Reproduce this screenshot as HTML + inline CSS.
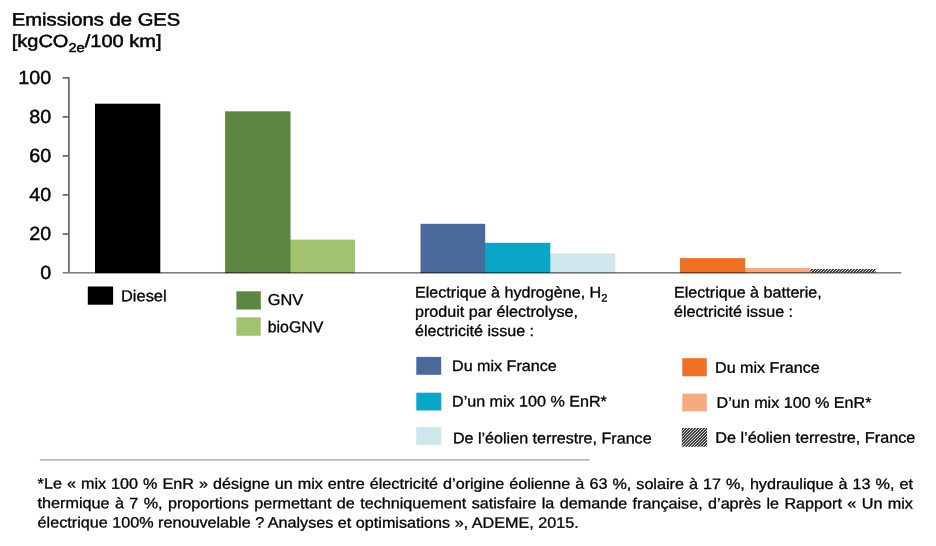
<!DOCTYPE html>
<html lang="fr">
<head>
<meta charset="utf-8">
<title>Emissions de GES</title>
<style>
html,body{margin:0;padding:0;background:#fff;}
body{width:936px;height:546px;position:relative;overflow:hidden;font-family:"Liberation Sans",Arial,sans-serif;color:#000;-webkit-text-stroke:0.3px #000;}
.t{position:absolute;white-space:nowrap;line-height:1;transform-origin:0 0;}
.ax{text-align:right;width:40px;}
.fn{position:absolute;left:37px;width:812px;transform:translate(0.6px,var(--dy)) scaleX(1.078) rotate(0.03deg);transform-origin:0 0;font-size:15px;line-height:1;text-align:justify;text-align-last:justify;white-space:nowrap;}
sub{vertical-align:baseline;position:relative;line-height:0;}
svg{position:absolute;left:0;top:0;}
</style>
</head>
<body>
<svg width="936" height="546" viewBox="0 0 936 546">
<g fill="#5c5c5c">
<rect x="68.1" y="77.05" width="1.6" height="195"/>
<rect x="62.6" y="77.05" width="6" height="1.6"/>
<rect x="62.6" y="116.10" width="6" height="1.6"/>
<rect x="62.6" y="155.10" width="6" height="1.6"/>
<rect x="62.6" y="194.10" width="6" height="1.6"/>
<rect x="62.6" y="233.20" width="6" height="1.6"/>
</g>
<rect x="744.30" y="268.0" width="66.00" height="5.10" fill="#f5aa80"/>
<rect x="680.00" y="258.1" width="65.30" height="15.00" fill="#f07025"/>
<rect x="549.30" y="253.5" width="66.00" height="19.60" fill="#cde7ed"/>
<rect x="484.20" y="242.8" width="66.10" height="30.30" fill="#0ba5c7"/>
<rect x="420.50" y="223.8" width="64.70" height="49.30" fill="#4b6a9c"/>
<rect x="289.50" y="239.6" width="65.50" height="33.50" fill="#a3c26f"/>
<rect x="225.10" y="111.3" width="65.40" height="161.80" fill="#5e8643"/>
<rect x="95.00" y="103.7" width="65.30" height="169.40" fill="#000"/>
<clipPath id="c1"><rect x="810.4" y="268.9" width="65.1" height="3.8"/></clipPath>
<path clip-path="url(#c1)" d="M801.80 273.70L807.60 267.90M804.80 273.70L810.60 267.90M807.80 273.70L813.60 267.90M810.80 273.70L816.60 267.90M813.80 273.70L819.60 267.90M816.80 273.70L822.60 267.90M819.80 273.70L825.60 267.90M822.80 273.70L828.60 267.90M825.80 273.70L831.60 267.90M828.80 273.70L834.60 267.90M831.80 273.70L837.60 267.90M834.80 273.70L840.60 267.90M837.80 273.70L843.60 267.90M840.80 273.70L846.60 267.90M843.80 273.70L849.60 267.90M846.80 273.70L852.60 267.90M849.80 273.70L855.60 267.90M852.80 273.70L858.60 267.90M855.80 273.70L861.60 267.90M858.80 273.70L864.60 267.90M861.80 273.70L867.60 267.90M864.80 273.70L870.60 267.90M867.80 273.70L873.60 267.90M870.80 273.70L876.60 267.90M873.80 273.70L879.60 267.90M876.80 273.70L882.60 267.90" stroke="#222" stroke-width="1.3" fill="none"/>
<rect x="62.6" y="272.0" width="838.6" height="1.6" fill="#000" fill-opacity="0.5"/>
<rect x="87.8" y="286.5" width="25.3" height="18.2" fill="#000"/>
<rect x="236.4" y="291.3" width="24.4" height="18.2" fill="#5e8643"/>
<rect x="236.4" y="317.3" width="24.3" height="18.5" fill="#a3c26f"/>
<rect x="416.3" y="356.9" width="24.9" height="17.9" fill="#4b6a9c"/>
<rect x="416.3" y="392.7" width="25" height="17.8" fill="#0ba5c7"/>
<rect x="416.3" y="427.1" width="25" height="17.8" fill="#cde7ed"/>
<rect x="682.3" y="358.2" width="24.5" height="18.1" fill="#f07025"/>
<rect x="682.3" y="393.6" width="24.5" height="17.8" fill="#f5aa80"/>
<clipPath id="c2"><rect x="681.8" y="428.0" width="25.3" height="18.8"/></clipPath>
<path clip-path="url(#c2)" d="M657.70 447.80L678.50 427.00M660.70 447.80L681.50 427.00M663.70 447.80L684.50 427.00M666.70 447.80L687.50 427.00M669.70 447.80L690.50 427.00M672.70 447.80L693.50 427.00M675.70 447.80L696.50 427.00M678.70 447.80L699.50 427.00M681.70 447.80L702.50 427.00M684.70 447.80L705.50 427.00M687.70 447.80L708.50 427.00M690.70 447.80L711.50 427.00M693.70 447.80L714.50 427.00M696.70 447.80L717.50 427.00M699.70 447.80L720.50 427.00M702.70 447.80L723.50 427.00M705.70 447.80L726.50 427.00M708.70 447.80L729.50 427.00" stroke="#222" stroke-width="1.3" fill="none"/>
<rect x="39.9" y="459.1" width="549.6" height="1.6" fill="#b4b4b4"/>
</svg>
<div class="t" style="left:11px;top:11px;font-size:17.7px;transform:translate(0.80px,0.40px) scaleX(1.143) rotate(0.03deg);-webkit-text-stroke-width:0.5px;">Emissions de GES</div>
<div class="t" style="left:11px;top:33px;font-size:17.7px;transform:translate(0.70px,0.00px) scaleX(1.132) rotate(0.03deg);-webkit-text-stroke-width:0.5px;">[kgCO<sub style="font-size:73%;top:4.5px">2e</sub>/100 km]</div>
<div class="t ax" style="left:11px;top:67px;font-size:19px;transform:translate(0.10px,0.95px) scaleX(1.035) rotate(0.03deg);transform-origin:100% 0;-webkit-text-stroke-width:0.45px;">100</div>
<div class="t ax" style="left:11px;top:107px;font-size:19px;transform:translate(0.10px,0.00px) scaleX(1.035) rotate(0.03deg);transform-origin:100% 0;-webkit-text-stroke-width:0.45px;">80</div>
<div class="t ax" style="left:11px;top:146px;font-size:19px;transform:translate(0.10px,0.00px) scaleX(1.035) rotate(0.03deg);transform-origin:100% 0;-webkit-text-stroke-width:0.45px;">60</div>
<div class="t ax" style="left:11px;top:185px;font-size:19px;transform:translate(0.10px,0.00px) scaleX(1.035) rotate(0.03deg);transform-origin:100% 0;-webkit-text-stroke-width:0.45px;">40</div>
<div class="t ax" style="left:11px;top:224px;font-size:19px;transform:translate(0.10px,0.10px) scaleX(1.035) rotate(0.03deg);transform-origin:100% 0;-webkit-text-stroke-width:0.45px;">20</div>
<div class="t ax" style="left:11px;top:263px;font-size:19px;transform:translate(0.10px,0.10px) scaleX(1.035) rotate(0.03deg);transform-origin:100% 0;-webkit-text-stroke-width:0.45px;">0</div>
<div class="t" style="left:121px;top:288px;font-size:15.8px;transform:translate(0.00px,0.30px) scaleX(1.04) rotate(0.03deg);">Diesel</div>
<div class="t" style="left:267px;top:292px;font-size:15.8px;transform:translate(0.70px,0.00px) scaleX(1.035) rotate(0.03deg);">GNV</div>
<div class="t" style="left:267px;top:319px;font-size:15.8px;transform:translate(0.70px,0.20px) scaleX(1.005) rotate(0.03deg);">bioGNV</div>
<div class="t" style="left:415px;top:284px;font-size:15.3px;transform:translate(0.00px,0.50px) scaleX(1.053) rotate(0.03deg);">Electrique à hydrogène, H<sub style="font-size:70%;top:3.8px">2</sub></div>
<div class="t" style="left:415px;top:303px;font-size:15.3px;transform:translate(0.00px,0.70px) scaleX(1.053) rotate(0.03deg);">produit par électrolyse,</div>
<div class="t" style="left:415px;top:322px;font-size:15.3px;transform:translate(0.00px,0.90px) scaleX(1.053) rotate(0.03deg);">électricité issue :</div>
<div class="t" style="left:452px;top:357px;font-size:15.3px;transform:translate(0.00px,0.90px) scaleX(1.053) rotate(0.03deg);">Du mix France</div>
<div class="t" style="left:452px;top:393px;font-size:15.3px;transform:translate(0.00px,0.40px) scaleX(1.053) rotate(0.03deg);">D’un mix 100 % EnR*</div>
<div class="t" style="left:452px;top:430px;font-size:15.3px;transform:translate(0.90px,0.30px) scaleX(1.053) rotate(0.03deg);">De l’éolien terrestre, France</div>
<div class="t" style="left:674px;top:284px;font-size:15.3px;transform:translate(0.00px,0.40px) scaleX(1.053) rotate(0.03deg);">Electrique à batterie,</div>
<div class="t" style="left:674px;top:303px;font-size:15.3px;transform:translate(0.00px,0.80px) scaleX(1.053) rotate(0.03deg);">électricité issue :</div>
<div class="t" style="left:715px;top:359px;font-size:15.3px;transform:translate(0.00px,0.70px) scaleX(1.053) rotate(0.03deg);">Du mix France</div>
<div class="t" style="left:716px;top:394px;font-size:15.3px;transform:translate(0.60px,0.80px) scaleX(1.053) rotate(0.03deg);">D’un mix 100 % EnR*</div>
<div class="t" style="left:715px;top:429px;font-size:15.3px;transform:translate(0.20px,0.70px) scaleX(1.0603709999999997) rotate(0.03deg);">De l’éolien terrestre, France</div>
<div class="fn" style="top:475px;--dy:0.6px;">*Le « mix 100 % EnR » désigne un mix entre électricité d’origine éolienne à 63 %, solaire à 17 %, hydraulique à 13 %, et</div>
<div class="fn" style="top:495px;--dy:0.1px;">thermique à 7 %, proportions permettant de techniquement satisfaire la demande française, d’après le Rapport « Un mix</div>
<div class="fn" style="top:514px;--dy:0.5px;text-align:left;text-align-last:left;">électrique 100% renouvelable ? Analyses et optimisations », ADEME, 2015.</div>
</body>
</html>
